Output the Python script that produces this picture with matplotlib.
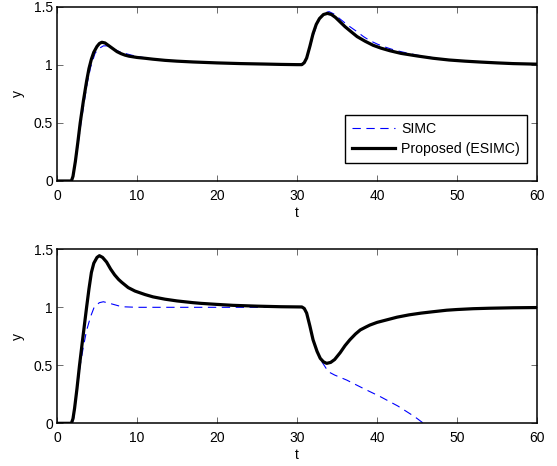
import numpy as np
import matplotlib
matplotlib.use("Agg")
import matplotlib.pyplot as plt

plt.rcParams['font.family'] = ['Liberation Sans', 'DejaVu Sans']
plt.rcParams['font.size'] = 10

# ---- data (t, y) ----
# top panel
t_top_simc = [0, 1.9, 2.3, 2.6, 3.0, 3.4, 3.8, 4.2, 4.75, 5.2, 5.8, 6.3, 7.0, 7.8, 8.5, 9.3,
              10.5, 12, 14, 17, 20, 23, 26, 30, 30.6, 31.0, 31.5, 32, 32.5, 33, 33.5, 34.0,
              34.6, 35.4, 36.4, 37.5, 38.3, 39.1, 40.1, 41.2, 42.2, 43.3, 45, 47, 49, 51,
              53, 55, 57, 60]
y_top_simc = [0, 0, 0.15, 0.3, 0.5, 0.68, 0.85, 0.98, 1.10, 1.14, 1.165, 1.165, 1.14, 1.115,
              1.10, 1.085, 1.068, 1.052, 1.038, 1.027, 1.018, 1.012, 1.008, 1.003, 1.003,
              1.03, 1.12, 1.25, 1.35, 1.42, 1.45, 1.46, 1.44, 1.395, 1.34, 1.287, 1.245,
              1.21, 1.178, 1.15, 1.128, 1.11, 1.085, 1.062, 1.045, 1.034, 1.025, 1.018,
              1.012, 1.007]

t_top_pro = [0, 1.8, 2.0, 2.3, 2.6, 2.9, 3.3, 3.7, 4.0, 4.3, 4.6, 5.0, 5.3, 5.6, 6.0, 6.5,
             7.0, 7.5, 8.0, 8.5, 9.0, 10, 11, 12, 13.5, 15, 17, 20, 23, 26, 28, 30, 30.6,
             30.9, 31.2, 31.6, 32.0, 32.4, 32.8, 33.3, 33.8, 34.3, 34.8, 35.4, 36.0, 36.7,
             37.5, 38.5, 39.5, 40.5, 41.6, 43, 45, 47, 49, 51, 53, 55, 57, 60]
y_top_pro = [0, 0, 0.04, 0.17, 0.33, 0.5, 0.69, 0.86, 0.97, 1.05, 1.11, 1.16, 1.185, 1.196,
             1.19, 1.165, 1.14, 1.115, 1.098, 1.085, 1.076, 1.065, 1.058, 1.05, 1.04, 1.033,
             1.026, 1.018, 1.012, 1.008, 1.005, 1.003, 1.003, 1.02, 1.06, 1.16, 1.27, 1.35,
             1.40, 1.435, 1.445, 1.435, 1.41, 1.37, 1.33, 1.29, 1.245, 1.205, 1.17, 1.145,
             1.123, 1.10, 1.078, 1.058, 1.043, 1.033, 1.025, 1.018, 1.012, 1.007]

# bottom panel
t_bot_simc = [0, 1.9, 2.1, 2.5, 2.9, 3.3, 3.7, 4.2, 4.67, 5.3, 5.8, 6.8, 8.1, 10, 30.6, 30.9,
              31.2, 31.6, 32.0, 32.5, 32.9, 33.2, 33.9, 34.7, 36.2, 38.3, 40.4, 42.6, 44.7,
              45.8, 47]
y_bot_simc = [0, 0, 0.05, 0.28, 0.5, 0.66, 0.80, 0.92, 1.005, 1.04, 1.048, 1.03, 1.005, 1.0,
              1.0, 0.99, 0.95, 0.84, 0.72, 0.62, 0.56, 0.52, 0.445, 0.416, 0.373, 0.30, 0.23,
              0.149, 0.057, 0.0, -0.07]

t_bot_pro = [0, 1.8, 2.0, 2.2, 2.5, 2.8, 3.2, 3.7, 4.0, 4.3, 4.6, 5.0, 5.3, 5.7, 6.2, 6.7,
             7.2, 7.7, 8.1, 8.9, 9.75, 11, 12, 13.5, 15, 17, 18, 20, 22, 25, 28, 30.6, 30.9,
             31.2, 31.6, 32.0, 32.5, 32.9, 33.3, 33.7, 34.2, 34.7, 35.4, 36.0, 36.6, 37.3,
             37.9, 38.6, 39.1, 40, 41, 42.5, 44, 45.5, 47, 48.7, 50, 52, 54, 57, 60]
y_bot_pro = [0, 0, 0.04, 0.13, 0.3, 0.49, 0.72, 1.0, 1.16, 1.30, 1.38, 1.43, 1.445, 1.43,
             1.39, 1.33, 1.28, 1.24, 1.215, 1.17, 1.14, 1.11, 1.09, 1.07, 1.055, 1.04, 1.034,
             1.025, 1.017, 1.01, 1.005, 1.003, 0.99, 0.95, 0.84, 0.72, 0.62, 0.56, 0.53,
             0.517, 0.525, 0.55, 0.61, 0.67, 0.72, 0.77, 0.805, 0.83, 0.847, 0.87, 0.888,
             0.915, 0.935, 0.95, 0.962, 0.975, 0.981, 0.988, 0.992, 0.996, 0.998]

xticks = [0, 10, 20, 30, 40, 50, 60]
yticks = [0, 0.5, 1, 1.5]
ytick_labels = ['0', '0.5', '1', '1.5']

fig = plt.figure(figsize=(5.57, 4.66), dpi=100)
ax1 = fig.add_axes([0.1023, 0.6116, 0.862, 0.3734])
ax2 = fig.add_axes([0.1023, 0.0916, 0.862, 0.3734])

dash = (0, (7.5, 5))
for ax, ts, ys, tp, yp in [(ax1, t_top_simc, y_top_simc, t_top_pro, y_top_pro),
                           (ax2, t_bot_simc, y_bot_simc, t_bot_pro, y_bot_pro)]:
    ax.plot(ts, ys, color='blue', lw=0.8, linestyle=dash, label='SIMC')
    ax.plot(tp, yp, color='black', lw=2.3, label='Proposed (ESIMC)')
    ax.set_xlim(0, 60)
    ax.set_ylim(0, 1.5)
    ax.set_xticks(xticks)
    ax.set_yticks(yticks)
    ax.set_yticklabels(ytick_labels)
    ax.tick_params(direction='in', top=True, right=True, length=4, width=0.6,
                   color='#555555', labelsize=10)
    ax.tick_params(axis='x', pad=5.5)
    ax.tick_params(axis='y', pad=3)
    for s in ax.spines.values():
        s.set_linewidth(1.1)
    ax.set_xlabel('t', labelpad=2.5)
    ax.set_ylabel('y', labelpad=6)

leg = ax1.legend(loc='lower right', bbox_to_anchor=(0.979, 0.105), borderaxespad=0,
                 fancybox=False, framealpha=1, edgecolor='black', fontsize=10.2,
                 handlelength=3.0, handletextpad=0.45, borderpad=0.5, labelspacing=0.4)
leg.get_frame().set_linewidth(1.0)

fig.savefig('out.png', dpi=100)
